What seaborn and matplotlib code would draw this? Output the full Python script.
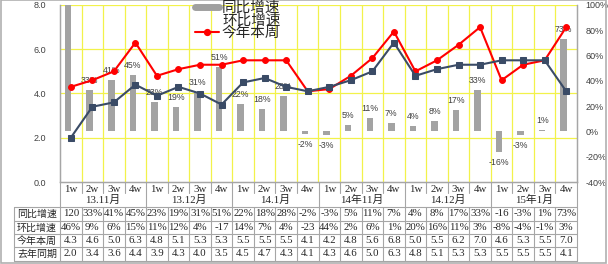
import numpy as np
import pandas as pd
import matplotlib
matplotlib.use("Agg")
import matplotlib.pyplot as plt
import seaborn as sns
from matplotlib.lines import Line2D
from matplotlib.patches import Rectangle

# ---------------- data ----------------
weeks = ["1w", "2w", "3w", "4w"] * 6
months = ["13.11月", "13.12月", "14.1月", "14年11月", "14.12月", "15年1月"]
yoy = [120, 33, 41, 45, 23, 19, 31, 51, 22, 18, 28, -2,
       -3, 5, 11, 7, 4, 8, 17, 33, -16, -3, 1, 73]
yoy_text = ["120", "33%", "41%", "45%", "23%", "19%", "31%", "51%", "22%", "18%", "28%", "-2%",
            "-3%", "5%", "11%", "7%", "4%", "8%", "17%", "33%", "-16", "-3%", "1%", "73%"]
mom_text = ["46%", "9%", "6%", "15%", "11%", "12%", "4%", "-17", "14%", "7%", "4%", "-23",
            "44%", "2%", "6%", "1%", "20%", "16%", "11%", "3%", "-8%", "-4%", "-1%", "3%"]
this_year = [4.3, 4.6, 5.0, 6.3, 4.8, 5.1, 5.3, 5.3, 5.5, 5.5, 5.5, 4.1,
             4.2, 4.8, 5.6, 6.8, 5.0, 5.5, 6.2, 7.0, 4.6, 5.3, 5.5, 7.0]
last_year = [2.0, 3.4, 3.6, 4.4, 3.9, 4.3, 4.0, 3.5, 4.5, 4.7, 4.3, 4.1,
             4.3, 4.6, 5.0, 6.3, 4.8, 5.1, 5.3, 5.3, 5.5, 5.5, 5.5, 4.1]
row_labels = ["同比增速", "环比增速", "今年本周", "去年同期"]
left_ticks = [0, 2, 4, 6, 8]
right_ticks = [-40, -20, 0, 20, 40, 60, 80, 100]

n = len(yoy)
idx = np.arange(n)
df = pd.DataFrame({"pos": idx, "bar_pos": idx - 0.12, "yoy": yoy,
                   "this_year": this_year, "last_year": last_year})

sns.set_theme(style="white")
CJK = ["Noto Sans CJK SC", "DejaVu Sans"]
SERIF = ["Liberation Serif", "Noto Sans CJK SC"]
SANS = ["Liberation Sans", "DejaVu Sans"]
plt.rcParams["font.family"] = ["Liberation Sans", "Noto Sans CJK SC"]

W, H = 608, 264
fig = plt.figure(figsize=(W / 100, H / 100), dpi=100)
fig.patch.set_facecolor("white")

PL, PR, PB, PT = 60, 577, 182, 5
ax = fig.add_axes([PL / W, (H - PB) / H, (PR - PL) / W, (PB - PT) / H])
ax2 = ax.twinx()
ax.set_zorder(ax2.get_zorder() + 1)
ax.patch.set_visible(False)

YEL = "#F2F24A"
GRAY_AX = "#A6A6A6"
TXT = "#404040"

# axis ranges
ax.set_xlim(-0.5, n - 0.5)
ax.set_ylim(0, 8)
ax2.set_ylim(-40, 100)

# gridlines (yellow) drawn behind bars on ax2
for t in left_ticks[1:]:
    yv = -40 + t * 140 / 8
    ax2.axhline(yv, color=YEL, lw=0.9, zorder=0)
for b in range(n - 1):
    ax2.axvline(b + 0.5, color=YEL, lw=0.9, zorder=0)

# bars (同比增速) on right axis
sns.barplot(data=df, x="bar_pos", y="yoy", ax=ax2, native_scale=True,
            width=0.30, color="#A3A3A3", saturation=1, edgecolor="none", zorder=2)
ax2.set_xlim(-0.5, n - 0.5)

for i, v in enumerate(yoy):
    if v > 100:
        continue
    off = 6.8 if v >= 0 else -7.5
    ax2.annotate(f"{v}%", xy=(i - 0.12, v), xytext=(0, off), textcoords="offset points",
                 ha="center", va="center", fontsize=6.3, family=SANS, color=TXT, zorder=3)

# lines on left axis
sns.lineplot(data=df, x="pos", y="this_year", ax=ax, color="#FF0000", lw=1.5,
             marker="o", markersize=4.2, markeredgecolor="#FF0000", zorder=3)
sns.lineplot(data=df, x="pos", y="last_year", ax=ax, color="#3A4B66", lw=1.5,
             marker="s", markersize=4.2, markeredgecolor="#3A4B66", zorder=4)

# ticks and spines
ax.set_xticks([])
ax2.set_xticks([])
ax.set_yticks(left_ticks)
ax.set_yticklabels([f"{t:.1f}" for t in left_ticks], fontsize=6.5, family=SANS, color=TXT)
ax2.set_yticks(right_ticks)
ax2.set_yticklabels([f"{t}%" for t in right_ticks], fontsize=6.5, family=SANS, color=TXT)
ax.tick_params(axis="y", length=0, pad=10)
ax2.tick_params(axis="y", length=0, pad=6)
for a in (ax, ax2):
    a.set_xlabel("")
    a.set_ylabel("")
    a.spines["top"].set_visible(False)
    for s in ("left", "right", "bottom"):
        a.spines[s].set_color(GRAY_AX)
        a.spines[s].set_linewidth(0.9)
ax.grid(False)
ax2.grid(False)

# legend
handles = [Line2D([], [], color="#A0A0A0", lw=5),
           Line2D([], [], color="none", lw=0),
           Line2D([], [], color="#FF0000", lw=1.5, marker="o", markersize=4.2)]
leg = ax.legend(handles, ["同比增速", "环比增速", "今年本周"], loc="upper left",
                bbox_to_anchor=(195 / W, 1 - 1 / H), bbox_transform=fig.transFigure,
                frameon=False, prop={"family": CJK, "size": 10.5},
                handlelength=1.65, handletextpad=0.2, labelspacing=-0.1,
                borderpad=0, borderaxespad=0)

# ---------------- table ----------------
cw = (PR - PL) / n
TL = 14
tab = fig.add_axes([TL / W, 0, (PR - TL) / W, (H - PB) / H])
x0 = -0.5 - (PL - TL) / cw
tab.set_xlim(x0, n - 0.5)
tab.set_ylim(H, PB)
tab.axis("off")
LC = "#A6A6A6"
rows_y = [207, 221, 234, 247, 261]
for y in rows_y:
    tab.plot([x0, n - 0.5], [y, y], color=LC, lw=0.8, clip_on=False)
tab.plot([x0, x0], [207, 261], color=LC, lw=0.8, clip_on=False)
for b in range(n + 1):
    xb = b - 0.5
    if b % 4 == 0:
        tab.plot([xb, xb], [PB, 261], color=LC, lw=0.8, clip_on=False)
    else:
        tab.plot([xb, xb], [PB, 193], color=LC, lw=0.8, clip_on=False)
        tab.plot([xb, xb], [207, 261], color=LC, lw=0.8, clip_on=False)

for i in range(n):
    tab.text(i, 189, weeks[i], ha="center", va="center", fontsize=7.8, family=SERIF, color="#262626")
for g, m in enumerate(months):
    tab.text(4 * g + 1.5, 200, m, ha="center", va="center", fontsize=7.8, family=SERIF, color="#262626")

row_vals = [yoy_text, mom_text,
            [f"{v:.1f}" for v in this_year], [f"{v:.1f}" for v in last_year]]
row_cy = [(rows_y[k] + rows_y[k + 1]) / 2 for k in range(4)]
for r in range(4):
    tab.text((x0 - 0.5) / 2, row_cy[r], row_labels[r], ha="center", va="center",
             fontsize=7.2, family=CJK, color="#262626")
    for i in range(n):
        tab.text(i, row_cy[r], row_vals[r][i], ha="center", va="center",
                 fontsize=7.8, family=SERIF, color="#262626")

# outer frame
fig.add_artist(Rectangle((0.5 / W, 1.5 / H), (W - 2.5) / W, (H - 1) / H,
                         transform=fig.transFigure, fill=False, edgecolor="#B0B0B0", lw=1.2))

fig.savefig("out.png", dpi=100)
